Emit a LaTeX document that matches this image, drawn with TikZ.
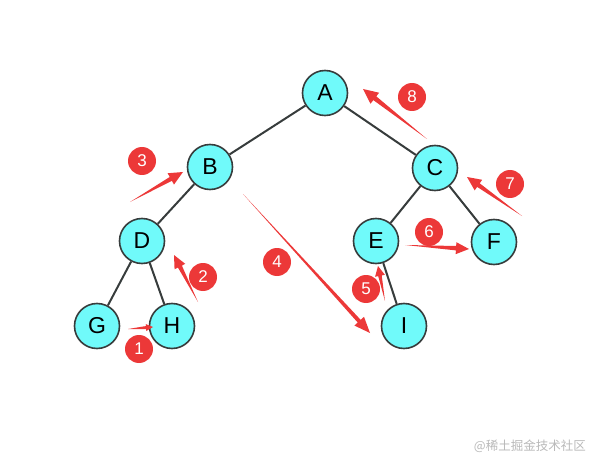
\documentclass[tikz,border=0pt]{standalone}
\usepackage{fontspec}
\setmainfont{Liberation Sans}
\newfontfamily\cjk{Noto Sans CJK SC}
\usetikzlibrary{calc}
\definecolor{nodecyan}{RGB}{112,250,250}
\definecolor{edgegray}{RGB}{55,60,60}
\definecolor{badgered}{RGB}{236,56,56}
\definecolor{markgray}{RGB}{185,185,185}
% tail, head, head length, head half-width, shaft half-width
\newcommand\redarrow[5]{%
  \fill[badgered] (#1) -- ($($(#2)!#3pt!(#1)$)!#5pt!90:(#2)$) -- ($($(#2)!#3pt!(#1)$)!#4pt!90:(#2)$) -- (#2)
    -- ($($(#2)!#3pt!(#1)$)!#4pt!-90:(#2)$) -- ($($(#2)!#3pt!(#1)$)!#5pt!-90:(#2)$) -- cycle;}
\begin{document}
\begin{tikzpicture}[x=1pt,y=-1pt,
  tnode/.style={circle, minimum size=45pt, inner sep=0pt, fill=nodecyan, draw=edgegray, line width=1.6pt, font=\fontsize{23}{23}\selectfont},
  treeedge/.style={draw=edgegray, line width=2pt},
  badge/.style={circle, minimum size=28pt, inner sep=0pt, fill=badgered, text=white, font=\fontsize{17}{17}\selectfont}]
\useasboundingbox (0,0) rectangle (590,460);
% tree nodes
\node[tnode] (A) at (325,93) {A};
\node[tnode] (B) at (210,167) {B};
\node[tnode] (C) at (435,168) {C};
\node[tnode] (D) at (142,241) {D};
\node[tnode] (E) at (376,241) {E};
\node[tnode] (F) at (494,242) {F};
\node[tnode] (G) at (97,326) {G};
\node[tnode] (H) at (172,326) {H};
\node[tnode] (I) at (404,326) {I};
% edges
\draw[treeedge] (A) -- (B);
\draw[treeedge] (A) -- (C);
\draw[treeedge] (B) -- (D);
\draw[treeedge] (C) -- (E);
\draw[treeedge] (C) -- (F);
\draw[treeedge] (D) -- (G);
\draw[treeedge] (D) -- (H);
\draw[treeedge] (E) -- (I);
% arrow end points
\coordinate (t1) at (128,329); \coordinate (h1) at (153,327);
\coordinate (t2) at (198,302); \coordinate (h2) at (174,255);
\coordinate (t3) at (130,202); \coordinate (h3) at (183,172);
\coordinate (t4) at (243,194); \coordinate (h4) at (370,333);
\coordinate (t5) at (385,301); \coordinate (h5) at (378,266);
\coordinate (t6) at (405,245); \coordinate (h6) at (469,249);
\coordinate (t7) at (522,216); \coordinate (h7) at (467,177);
\coordinate (t8) at (427,139); \coordinate (h8) at (363,89);
\redarrow{t1}{h1}{7}{3.5}{1.5}
\redarrow{t2}{h2}{13}{6}{2.2}
\redarrow{t3}{h3}{14}{6.5}{2.2}
\redarrow{t4}{h4}{16}{6.5}{2}
\redarrow{t5}{h5}{10}{5}{1.8}
\redarrow{t6}{h6}{13}{6}{2.2}
\redarrow{t7}{h7}{14}{6.5}{2.2}
\redarrow{t8}{h8}{15}{7}{2.4}
% badges
\node[badge] (n1) at (139,349) {1};
\node[badge] (n2) at (203,277) {2};
\node[badge] (n3) at (142,161) {3};
\node[badge] (n4) at (277,262) {4};
\node[badge] (n5) at (366,289) {5};
\node[badge] (n6) at (429,232) {6};
\node[badge] (n7) at (510,184) {7};
\node[badge] (n8) at (412,97) {8};
% watermark
\node[text=markgray, font=\cjk\fontsize{12.5}{12.5}\selectfont, anchor=east, inner sep=0pt] (wm) at (586,446) {@稀土掘金技术社区};
\end{tikzpicture}
\end{document}
